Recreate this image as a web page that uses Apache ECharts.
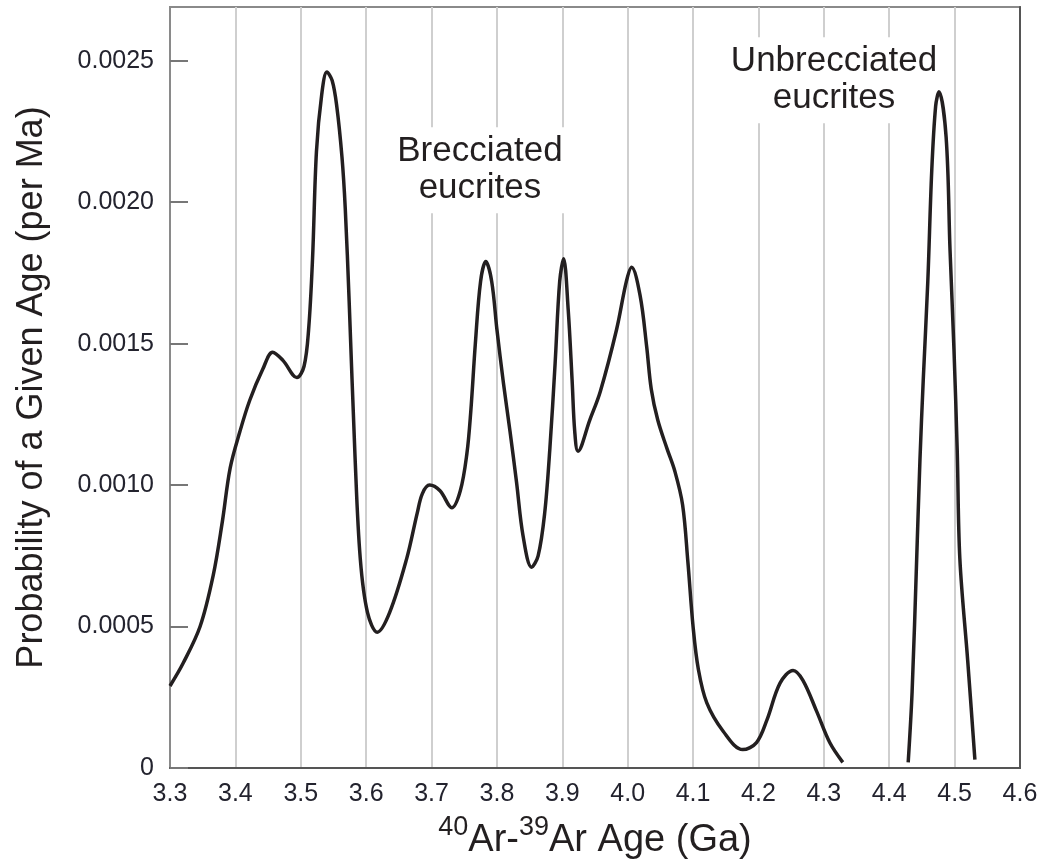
<!DOCTYPE html>
<html>
<head>
<meta charset="utf-8">
<script src="https://cdn.jsdelivr.net/npm/echarts@6/dist/echarts.min.js"></script>
<style>
  html, body { margin: 0; padding: 0; background: #fff; }
  #chart { width: 1047px; height: 865px; }
</style>
</head>
<body>
<div id="chart"></div>
<script>
// ---- Data ----
// Brecciated eucrites probability curve: ages (Ga) and probability (per Ma)
const brecciatedAge = [
  3.300, 3.320, 3.346, 3.366, 3.380, 3.392, 3.407, 3.422, 3.442, 3.457, 3.473, 3.494,
  3.505, 3.512, 3.518, 3.524, 3.532, 3.540, 3.548, 3.555, 3.563, 3.568, 3.574, 3.583,
  3.591, 3.602, 3.617, 3.636, 3.662, 3.678, 3.686, 3.697, 3.713, 3.731, 3.744, 3.754,
  3.760, 3.767, 3.775, 3.783, 3.792, 3.800, 3.810, 3.820, 3.830, 3.840, 3.853, 3.863,
  3.873, 3.881, 3.889, 3.896, 3.902, 3.909, 3.915, 3.919, 3.924, 3.942, 3.958, 3.983,
  3.998, 4.006, 4.019, 4.029, 4.036, 4.046, 4.060, 4.072, 4.084, 4.092, 4.100, 4.108,
  4.121, 4.146, 4.176, 4.197, 4.213, 4.233, 4.253, 4.268, 4.289, 4.309, 4.329
];
const brecciatedProb = [
  0.00029, 0.00037, 0.00050, 0.00068, 0.00087, 0.00106, 0.00119, 0.00130, 0.00141, 0.00147, 0.00144, 0.00138,
  0.00142, 0.00155, 0.00180, 0.00218, 0.00238, 0.00246, 0.00243, 0.00234, 0.00216, 0.00198, 0.00165, 0.00110,
  0.00074, 0.00055, 0.00048, 0.00055, 0.00074, 0.00090, 0.00097, 0.00100, 0.00098, 0.00092, 0.00098, 0.00111,
  0.00126, 0.00150, 0.00172, 0.00179, 0.00172, 0.00155, 0.00136, 0.00119, 0.00101, 0.00082, 0.00071, 0.00075,
  0.00090, 0.00113, 0.00143, 0.00172, 0.00180, 0.00162, 0.00137, 0.00119, 0.00112, 0.00123, 0.00133, 0.00155,
  0.00172, 0.00177, 0.00167, 0.00149, 0.00134, 0.00123, 0.00113, 0.00105, 0.00093, 0.00073, 0.00050, 0.00035,
  0.00023, 0.00013, 0.000065, 0.00009, 0.00017, 0.00030, 0.000345, 0.00031, 0.00020, 0.00009, 0.00002
];
// Unbrecciated eucrites probability curve
const unbrecciatedAge = [
  4.429, 4.435, 4.442, 4.447, 4.452, 4.459, 4.465, 4.471, 4.476, 4.487, 4.493, 4.499,
  4.504, 4.508, 4.520, 4.531
];
const unbrecciatedProb = [
  0.00002, 0.00027, 0.00074, 0.00109, 0.00137, 0.00172, 0.00211, 0.00234, 0.00239, 0.00223, 0.00183, 0.00148,
  0.00112, 0.00074, 0.00038, 0.00003
];
// Axis ticks
const xTicks = [3.3, 3.4, 3.5, 3.6, 3.7, 3.8, 3.9, 4.0, 4.1, 4.2, 4.3, 4.4, 4.5, 4.6];
const yTickLabels = ['0', '0.0005', '0.0010', '0.0015', '0.0020', '0.0025'];
// Annotations
const annotationText = ['Brecciated\neucrites', 'Unbrecciated\neucrites'];
const annotationAge = [3.774, 4.3155];
const annotationProb = [0.002113, 0.002431];

// ---- Build chart ----
const zip = (a, b) => a.map((v, i) => [v, b[i]]);
const chart = echarts.init(document.getElementById('chart'));
const ink = '#231f20';
const font = '"Liberation Sans", Arial, Helvetica, sans-serif';

chart.setOption({
  animation: false,
  backgroundColor: '#fff',
  grid: {
    left: 170, right: 27, top: 7, bottom: 97,
    show: true, borderColor: '#8a8a8a', borderWidth: 2, backgroundColor: 'transparent'
  },
  xAxis: {
    type: 'value',
    min: xTicks[0], max: xTicks[xTicks.length - 1], interval: 0.1,
    axisLine: { show: true, lineStyle: { color: '#555', width: 2 } },
    axisTick: { show: false },
    splitLine: { show: true, lineStyle: { color: '#cfcfcf', width: 2 } },
    axisLabel: {
      color: '#23232e', fontSize: 25, fontFamily: font, margin: 14,
      formatter: v => v.toFixed(1)
    },
    name: '{sup|40}{n|Ar-}{sup|39}{n|Ar Age (Ga)}',
    nameLocation: 'middle',
    nameGap: 46,
    nameTextStyle: {
      rich: {
        sup: { fontSize: 27, fontFamily: font, color: ink, verticalAlign: 'top', lineHeight: 30 },
        n: { fontSize: 38, fontFamily: font, color: ink, verticalAlign: 'bottom', lineHeight: 46 }
      }
    }
  },
  yAxis: [{
    type: 'value',
    min: 0, max: 0.00269, interval: 0.0005,
    axisLine: { show: true, lineStyle: { color: '#8a8a8a', width: 2 } },
    axisTick: { show: true, inside: true, length: 18, lineStyle: { color: '#777', width: 2 } },
    splitLine: { show: false },
    axisLabel: {
      color: '#23232e', fontSize: 25, fontFamily: font, margin: 16,
      showMaxLabel: false,
      formatter: v => {
        const i = Math.round(v / 0.0005);
        return Math.abs(v - i * 0.0005) < 1e-9 ? (yTickLabels[i] || '') : '';
      }
    },
    name: 'Probability of a Given Age (per Ma)',
    nameLocation: 'middle',
    nameGap: 120,
    nameTextStyle: { fontSize: 36, fontFamily: font, color: ink }
  }, {
    type: 'value', position: 'right',
    min: 0, max: 0.00269,
    axisLine: { show: true, lineStyle: { color: '#555', width: 2 } },
    axisTick: { show: false }, axisLabel: { show: false }, splitLine: { show: false }
  }],
  series: [
    {
      type: 'scatter',
      z: 1,
      symbolSize: 0,
      silent: true,
      itemStyle: { opacity: 1 },
      data: annotationText.map((t, i) => [annotationAge[i], annotationProb[i], t]),
      label: {
        show: true, position: 'inside',
        formatter: p => p.data[2],
        fontSize: 35, lineHeight: 37, fontFamily: font, color: ink, opacity: 1,
        align: 'center', verticalAlign: 'middle',
        backgroundColor: '#fff', padding: [6, 12]
      }
    },
    {
      name: 'Brecciated eucrites',
      type: 'line', z: 3,
      data: zip(brecciatedAge, brecciatedProb),
      smooth: 0.35,
      showSymbol: false,
      lineStyle: { color: ink, width: 3.5 }
    },
    {
      name: 'Unbrecciated eucrites',
      type: 'line', z: 3,
      data: zip(unbrecciatedAge, unbrecciatedProb),
      smooth: 0.35,
      showSymbol: false,
      lineStyle: { color: ink, width: 3.5 }
    }
  ]
});
</script>
</body>
</html>
